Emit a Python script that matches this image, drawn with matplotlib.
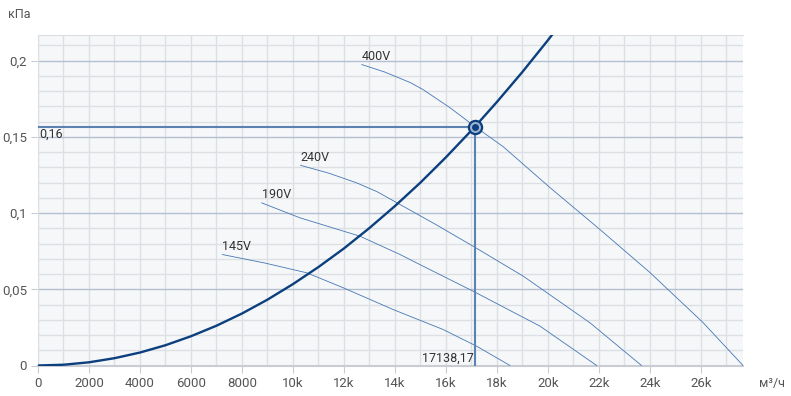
import numpy as np
import matplotlib.pyplot as plt
from matplotlib.ticker import FixedLocator, MultipleLocator

plt.rcParams['font.family'] = ['Roboto', 'DejaVu Sans']

# system curve
sys_x = [0, 1000, 2000, 3000, 4000, 5000, 6000, 7000, 8000, 9000, 10000, 11000,
         12000, 13000, 14000, 15000, 16000, 17000, 17138.17, 18000, 19000, 20000, 20300]
sys_y = [0, 0.0005, 0.0021, 0.0048, 0.0085, 0.0133, 0.0192, 0.0261, 0.0341, 0.0432,
         0.0534, 0.0646, 0.0768, 0.0902, 0.1046, 0.1200, 0.1366, 0.1542, 0.1567,
         0.1729, 0.1926, 0.2134, 0.2199]

# fan curves
fan_labels = ["400V", "240V", "190V", "145V"]
fan_x = [
    [12700, 13600, 14600, 15100, 16150, 17140, 18240, 20080, 22040, 24000, 26080, 27650],
    [10300, 11400, 12500, 13300, 14200, 15600, 17070, 19030, 21650, 23670],
    [8770, 10270, 12630, 14200, 15110, 17070, 19690, 21910],
    [7230, 8900, 10540, 11970, 13930, 15890, 17200, 18510],
]
fan_y = [
    [0.1974, 0.1925, 0.1856, 0.1810, 0.1692, 0.1567, 0.1436, 0.1167, 0.0892, 0.0610, 0.0282, 0.0],
    [0.1313, 0.1262, 0.1198, 0.1140, 0.1056, 0.0925, 0.0782, 0.0586, 0.0280, 0.0],
    [0.1067, 0.0969, 0.0848, 0.0728, 0.0651, 0.0487, 0.0258, 0.0],
    [0.0728, 0.0672, 0.0608, 0.0510, 0.0367, 0.0236, 0.0127, 0.0],
]

op_x = 17138.17
op_y = 0.1567

x_ticks = list(range(0, 27000, 2000))
x_tick_labels = ["0", "2000", "4000", "6000", "8000", "10k", "12k", "14k",
                 "16k", "18k", "20k", "22k", "24k", "26k"]
y_ticks = [0, 0.05, 0.1, 0.15, 0.2]
y_tick_labels = ["0", "0,05", "0,1", "0,15", "0,2"]

fig = plt.figure(figsize=(7.91, 3.96), dpi=100)
ax = fig.add_axes([38 / 791, 1 - 365.5 / 396, (743 - 38) / 791, (365.5 - 35) / 396])
ax.set_facecolor("#f5f7f9")
ax.set_xlim(0, 27650)
ax.set_ylim(0, 0.2168)

# grid
ax.xaxis.set_minor_locator(MultipleLocator(1000))
ax.yaxis.set_minor_locator(MultipleLocator(0.01))
ax.grid(which="minor", axis="both", color="#dcdfe3", lw=1.0, zorder=0)
ax.grid(which="major", axis="x", color="#dcdfe3", lw=1.0, zorder=0)
ax.grid(which="major", axis="y", color="#b3c0d1", lw=1.0, zorder=0)
ax.set_axisbelow(True)

for s in ["left", "top", "right"]:
    ax.spines[s].set_color("#dcdfe3")
ax.spines["right"].set_visible(False)
ax.spines["bottom"].set_color("#c9cdd3")
ax.spines["bottom"].set_linewidth(1.5)

ax.xaxis.set_major_locator(FixedLocator(x_ticks))
ax.set_xticklabels(x_tick_labels)
ax.yaxis.set_major_locator(FixedLocator(y_ticks))
ax.set_yticklabels(y_tick_labels)
ax.tick_params(which="major", length=5, color="#c9cdd3", labelsize=9.5,
               labelcolor="#555555", pad=3)
ax.tick_params(which="minor", length=0)

# fan curves
for lab, xs, ys in zip(fan_labels, fan_x, fan_y):
    ax.plot(xs, ys, color="#4677b4", lw=0.6, zorder=3)
    ax.text(xs[0], ys[0] + 0.0012, lab, fontsize=9, color="#333333",
            ha="left", va="bottom", zorder=5)

# system curve
ax.plot(sys_x, sys_y, color="#0c3f7e", lw=1.7, zorder=4, clip_on=True)

# operating point lines
ax.plot([0, op_x], [op_y, op_y], color="#5a82b3", lw=1.5, zorder=3)
ax.plot([op_x, op_x], [0, op_y], color="#5a82b3", lw=1.5, zorder=3)
ax.plot(op_x, op_y, "o", ms=9.5, mfc="#9fb6d3", mec="#0c3f7e", mew=1.6, zorder=6)
ax.plot(op_x, op_y, "o", ms=5, mfc="#0c3f7e", mec="#0c3f7e", mew=0, zorder=7)

ax.text(60, op_y - 0.0007, "0,16", fontsize=9, color="#333333", ha="left", va="top", zorder=5)
ax.text(op_x - 60, 0.0008, "17138,17", fontsize=9, color="#333333", ha="right", va="bottom", zorder=5)

fig.text(8 / 791, 1 - 15 / 396, "кПа", fontsize=9, color="#555555", ha="left", va="center")
fig.text(759 / 791, 1 - 383 / 396, "м³/ч", fontsize=9, color="#555555", ha="left", va="center")

fig.savefig("out.png", dpi=100)
